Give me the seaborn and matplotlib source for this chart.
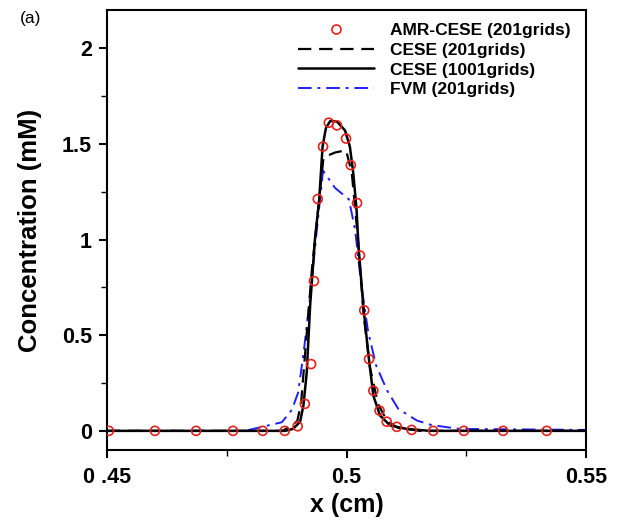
import numpy as np
import pandas as pd
import matplotlib
matplotlib.use("Agg")
import matplotlib.pyplot as plt
from matplotlib.lines import Line2D
from matplotlib.ticker import MultipleLocator
import seaborn as sns

# ---- data ----
amr_x = [0.4504, 0.4600, 0.4686, 0.4763, 0.4825, 0.4871, 0.4898, 0.4913, 0.4926,
         0.4932, 0.4940, 0.4951, 0.4963, 0.4980, 0.4999, 0.5009, 0.5022, 0.5028,
         0.5037, 0.5047, 0.5056, 0.5069, 0.5084, 0.5105, 0.5136, 0.5181, 0.5245,
         0.5327, 0.5418]
amr_y = [0.0, 0.0, 0.0, 0.0, 0.0, 0.0, 0.024, 0.141, 0.349,
         0.783, 1.212, 1.486, 1.611, 1.597, 1.528, 1.389, 1.191, 0.917,
         0.630, 0.375, 0.210, 0.106, 0.048, 0.021, 0.005, 0.0, 0.0,
         0.0, 0.0]

cese1001_x = [0.45, 0.4872, 0.4888, 0.4903, 0.4910, 0.4917, 0.4924, 0.4934, 0.4943,
              0.4950, 0.4957, 0.4966, 0.4980, 0.4997, 0.5007, 0.5014, 0.5021, 0.5025,
              0.5035, 0.5046, 0.5056, 0.5070, 0.5091, 0.5126, 0.5174, 0.55]
cese1001_y = [0.0, 0.0, 0.01, 0.047, 0.132, 0.306, 0.653, 1.0, 1.208,
              1.486, 1.583, 1.62, 1.617, 1.57, 1.486, 1.35, 1.156, 0.965,
              0.653, 0.392, 0.184, 0.08, 0.028, 0.01, 0.0, 0.0]

cese201_x = [0.45, 0.4867, 0.4897, 0.4905, 0.4928, 0.4952, 0.4976, 0.4999, 0.5011,
             0.5024, 0.5036, 0.5049, 0.5066, 0.5085, 0.5108, 0.5153, 0.55]
cese201_y = [0.0, 0.0, 0.05, 0.14, 0.85, 1.43, 1.455, 1.467, 1.35,
             1.0, 0.6, 0.33, 0.14, 0.05, 0.015, 0.0, 0.0]

fvm_x = [0.45, 0.4788, 0.4865, 0.4886, 0.4899, 0.4911, 0.4924, 0.4938, 0.4951,
         0.4976, 0.5005, 0.5018, 0.5030, 0.5045, 0.5062, 0.5085, 0.5108, 0.5147,
         0.5178, 0.5237, 0.55]
fvm_y = [0.0, 0.0, 0.045, 0.11, 0.2, 0.42, 0.70, 1.05, 1.36,
         1.27, 1.21, 1.05, 0.78, 0.52, 0.34, 0.21, 0.115, 0.054,
         0.03, 0.01, 0.005]

x_ticks = [0.45, 0.5, 0.55]
x_ticklabels = ["0 .45", "0.5", "0.55"]
y_ticks = [0, 0.5, 1, 1.5, 2]
y_ticklabels = ["0", "0.5", "1", "1.5", "2"]

labels = ["AMR-CESE (201grids)", "CESE (201grids)", "CESE (1001grids)", "FVM (201grids)"]

# ---- style ----
sns.set_theme(style="ticks")
plt.rcParams["font.family"] = ["Liberation Sans", "DejaVu Sans"]
plt.rcParams["text.color"] = "black"
plt.rcParams["axes.labelcolor"] = "black"
plt.rcParams["xtick.color"] = "black"
plt.rcParams["ytick.color"] = "black"

RED = "#e8201c"
BLUE = "#1f1fff"

fig = plt.figure(figsize=(6.27, 5.21), dpi=100)
ax = fig.add_axes([0.1707, 0.1363, 0.7639, 0.8445])

sns.lineplot(x=cese201_x, y=cese201_y, ax=ax, color="black", lw=1.6,
             linestyle=(0, (6, 3.5)), sort=False, zorder=3)
sns.lineplot(x=cese1001_x, y=cese1001_y, ax=ax, color="black", lw=1.8,
             sort=False, zorder=3)
sns.lineplot(x=fvm_x, y=fvm_y, ax=ax, color=BLUE, lw=1.4,
             linestyle=(0, (7, 3, 1.5, 3)), sort=False, zorder=2)
sns.scatterplot(x=amr_x, y=amr_y, ax=ax, marker="o", s=42, color=RED,
                facecolor="none", edgecolor=RED, linewidth=1.2, zorder=4)

ax.set_xlim(0.45, 0.55)
ax.set_ylim(-0.1, 2.2)
ax.set_xticks(x_ticks)
ax.set_xticklabels(x_ticklabels)
ax.set_yticks(y_ticks)
ax.set_yticklabels(y_ticklabels)
ax.xaxis.set_minor_locator(MultipleLocator(0.025))
ax.yaxis.set_minor_locator(MultipleLocator(0.25))

for sp in ax.spines.values():
    sp.set_visible(True)
    sp.set_linewidth(1.5)
    sp.set_color("black")

ax.tick_params(which="major", direction="out", length=6, width=1.5, color="black",
               labelsize=15.5, pad=5, labelcolor="black")
ax.tick_params(axis="x", which="major", pad=6)
ax.tick_params(which="minor", direction="out", length=4, width=1.0, color="black")
ax.tick_params(top=False, right=False, which="both")
for lab in ax.get_xticklabels() + ax.get_yticklabels():
    lab.set_fontweight("bold")

ax.set_xlabel("x (cm)", fontsize=18, fontweight="bold", labelpad=4, color="black")
ax.set_ylabel("Concentration (mM)", fontsize=18.5, fontweight="bold", labelpad=14,
              color="black")

handles = [
    Line2D([], [], marker="o", linestyle="none", markersize=6.5, markerfacecolor="none",
           markeredgecolor=RED, markeredgewidth=1.2),
    Line2D([], [], color="black", lw=1.6, linestyle=(0, (6, 3.5))),
    Line2D([], [], color="black", lw=1.8),
    Line2D([], [], color=BLUE, lw=1.4, linestyle=(0, (7, 3, 1.5, 3))),
]
leg = ax.legend(handles, labels, loc="upper right", frameon=False,
                prop={"weight": "bold", "size": 12.5}, handlelength=4.4,
                handletextpad=0.9, labelspacing=0.26, borderaxespad=0.3,
                bbox_to_anchor=(0.993, 0.998))
for t in leg.get_texts():
    t.set_color("black")

fig.text(20 / 627, 1 - 18 / 521, "(a)", fontsize=12.5, va="center", ha="left",
         color="black")

fig.savefig("out.png", dpi=100)
